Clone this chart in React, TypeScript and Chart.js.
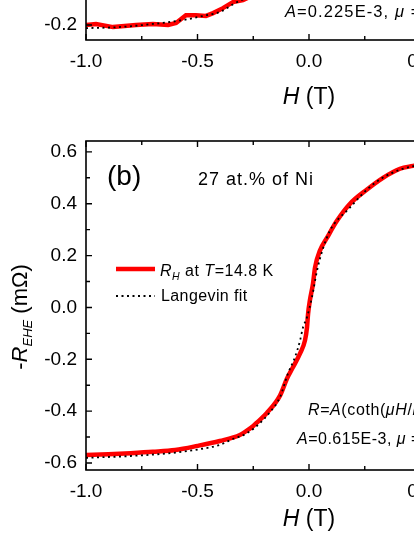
import React, { useEffect, useRef } from 'react';
import { Chart, registerables } from 'chart.js';

Chart.register(...registerables);

const FAMILY = "'Liberation Sans', Arial, sans-serif";

// Axis ticks
const X_TICKS = [-1.0, -0.5, 0.0, 0.5, 1.0];
const X_MINOR = [-0.75, -0.25, 0.25, 0.75];
const Y_TICKS_B = [-0.6, -0.4, -0.2, 0.0, 0.2, 0.4, 0.6];
const Y_MINOR_B = [-0.5, -0.3, -0.1, 0.1, 0.3, 0.5];
const Y_TICKS_A = [-0.2, 0.0, 0.2, 0.4, 0.6, 0.8];
const Y_MINOR_A = [-0.1, 0.1, 0.3, 0.5, 0.7, 0.9];

// Panel (b): measured R_H at T = 14.8 K (27 at.% Ni)
const H_MEAS_B = [-1.0, -0.9, -0.8, -0.7, -0.6, -0.5, -0.4, -0.31, -0.28, -0.25, -0.23, -0.19, -0.13, -0.099, -0.072, -0.04, -0.018, -0.009, -0.004, 0.004, 0.018, 0.027, 0.049, 0.081, 0.126, 0.184, 0.26, 0.332, 0.408, 0.466, 0.55, 0.65, 0.8, 1.0];
const R_MEAS_B = [-0.569, -0.566, -0.562, -0.557, -0.55, -0.534, -0.515, -0.492, -0.476, -0.457, -0.441, -0.408, -0.34, -0.275, -0.231, -0.177, -0.127, -0.077, -0.023, 0.027, 0.092, 0.154, 0.219, 0.269, 0.335, 0.4, 0.455, 0.5, 0.535, 0.546, 0.56, 0.572, 0.585, 0.6];
// Panel (b): Langevin fit
const H_FIT_B = [-1.0, -0.8, -0.6, -0.5, -0.4, -0.354, -0.278, -0.22, -0.175, -0.13, -0.094, -0.063, -0.04, -0.027, -0.009, 0.013, 0.036, 0.06, 0.094, 0.13, 0.17, 0.26, 0.33, 0.41, 0.47, 0.6, 0.8, 1.0];
const R_FIT_B = [-0.58, -0.573, -0.56, -0.548, -0.53, -0.512, -0.485, -0.446, -0.404, -0.346, -0.254, -0.192, -0.127, -0.077, -0.038, 0.038, 0.142, 0.22, 0.296, 0.34, 0.373, 0.455, 0.5, 0.532, 0.545, 0.565, 0.585, 0.6];

// Panel (a) (upper, mostly cropped): measured and fit
const H_MEAS_A = [-1.0, -0.955, -0.879, -0.776, -0.7, -0.632, -0.596, -0.552, -0.507, -0.462, -0.43, -0.386, -0.341, -0.296, -0.25, -0.2];
const R_MEAS_A = [-0.2, -0.196, -0.208, -0.2, -0.196, -0.2, -0.192, -0.162, -0.162, -0.165, -0.154, -0.135, -0.112, -0.104, -0.085, -0.065];
const H_FIT_A = [-1.0, -0.852, -0.7, -0.62, -0.54, -0.46, -0.4, -0.33, -0.25, -0.15];
const R_FIT_A = [-0.212, -0.208, -0.196, -0.188, -0.177, -0.162, -0.15, -0.115, -0.085, -0.05];

type Seg = { t: string; size: number; italic?: boolean; dy?: number };

function drawRich(ctx: CanvasRenderingContext2D, x: number, y: number, segs: Seg[], ls = 0, align: 'left' | 'center' = 'left') {
  ctx.save();
  ctx.textBaseline = 'alphabetic';
  ctx.textAlign = 'left';
  ctx.fillStyle = '#000';
  (ctx as any).letterSpacing = ls + 'px';
  let w = 0;
  for (const s of segs) {
    ctx.font = `${s.italic ? 'italic ' : ''}${s.size}px ${FAMILY}`;
    w += ctx.measureText(s.t).width;
  }
  let cx = align === 'center' ? x - w / 2 : x;
  for (const s of segs) {
    ctx.font = `${s.italic ? 'italic ' : ''}${s.size}px ${FAMILY}`;
    ctx.fillText(s.t, cx, y + (s.dy || 0));
    cx += ctx.measureText(s.t).width;
  }
  ctx.restore();
}

function framePlugin(yMajor: number[], yMinor: number[]) {
  return {
    id: 'frame',
    afterDatasetsDraw(chart: any) {
      const { ctx, chartArea: a, scales } = chart;
      const x = scales.x;
      const y = scales.y;
      ctx.save();
      ctx.strokeStyle = '#000';
      ctx.lineWidth = 1.6;
      ctx.strokeRect(a.left, a.top, a.right - a.left, a.bottom - a.top);
      ctx.lineWidth = 1.4;
      ctx.beginPath();
      const xt = (vals: number[], len: number) => {
        for (const v of vals) {
          const p = x.getPixelForValue(v);
          ctx.moveTo(p, a.bottom);
          ctx.lineTo(p, a.bottom - len);
          ctx.moveTo(p, a.top);
          ctx.lineTo(p, a.top + len);
        }
      };
      const yt = (vals: number[], len: number) => {
        for (const v of vals) {
          const p = y.getPixelForValue(v);
          ctx.moveTo(a.left, p);
          ctx.lineTo(a.left + len, p);
          ctx.moveTo(a.right, p);
          ctx.lineTo(a.right - len, p);
        }
      };
      xt(X_TICKS, 6);
      xt(X_MINOR, 4);
      yt(yMajor, 6);
      yt(yMinor, 4);
      ctx.stroke();
      ctx.restore();
    },
  };
}

function makeConfig(p: {
  hMeas: number[]; rMeas: number[]; hFit: number[]; rFit: number[];
  yMin: number; yMax: number; yMajor: number[]; yMinor: number[];
  padTop: number; xHeight: number; smooth: boolean; extra: any;
}) {
  const meas = p.hMeas.map((h, i) => ({ x: h, y: p.rMeas[i] }));
  const fit = p.hFit.map((h, i) => ({ x: h, y: p.rFit[i] }));
  return {
    type: 'line',
    data: {
      datasets: [
        {
          label: 'Langevin fit',
          data: fit,
          borderColor: '#000',
          borderWidth: 1.8,
          borderDash: [2, 3.5],
          pointRadius: 0,
          cubicInterpolationMode: 'monotone',
          order: 0,
        },
        {
          label: 'R_H at T=14.8 K',
          data: meas,
          borderColor: '#ff0000',
          borderWidth: 4.5,
          pointRadius: 0,
          cubicInterpolationMode: p.smooth ? 'monotone' : 'default',
          tension: 0,
          order: 1,
        },
      ],
    },
    options: {
      animation: false,
      responsive: false,
      layout: { padding: { top: p.padTop, right: 28, left: 0, bottom: 0 } },
      plugins: { legend: { display: false }, tooltip: { enabled: false } },
      scales: {
        x: {
          type: 'linear',
          min: -1,
          max: 1,
          grid: { display: false, drawTicks: false },
          border: { display: false },
          afterBuildTicks: (s: any) => { s.ticks = X_TICKS.map((v) => ({ value: v })); },
          afterFit: (s: any) => { s.height = p.xHeight; },
          ticks: {
            padding: 10,
            color: '#000',
            font: { family: FAMILY, size: 19 },
            maxRotation: 0,
            callback: (v: any) => Number(v).toFixed(1),
          },
        },
        y: {
          type: 'linear',
          min: p.yMin,
          max: p.yMax,
          grid: { display: false, drawTicks: false },
          border: { display: false },
          afterBuildTicks: (s: any) => { s.ticks = p.yMajor.map((v) => ({ value: v })); },
          afterFit: (s: any) => { s.width = 86; },
          ticks: {
            padding: 9,
            color: '#000',
            font: { family: FAMILY, size: 19 },
            callback: (v: any) => Number(v).toFixed(1),
          },
        },
      },
    },
    plugins: [framePlugin(p.yMajor, p.yMinor), p.extra],
  } as any;
}

const TOP_CANVAS_H = 440;
const TOP_OFFSET = -305;

export default function App() {
  const topRef = useRef<HTMLCanvasElement>(null);
  const botRef = useRef<HTMLCanvasElement>(null);

  useEffect(() => {
    const topExtra = {
      id: 'topText',
      afterDraw(chart: any) {
        const ctx = chart.ctx;
        const oy = -TOP_OFFSET;
        drawRich(ctx, 285, 17 + oy, [
          { t: 'A', size: 16.5, italic: true },
          { t: '=0.225E-3, ', size: 16.5 },
          { t: 'μ', size: 16.5, italic: true },
          { t: ' =1', size: 16.5 },
        ], 1.1);
        drawRich(ctx, 309, 104 + oy, [
          { t: 'H', size: 23, italic: true },
          { t: ' (T)', size: 23 },
        ], 0, 'center');
      },
    };
    const botExtra = {
      id: 'botText',
      afterDraw(chart: any) {
        const ctx = chart.ctx as CanvasRenderingContext2D;
        // panel label and composition
        drawRich(ctx, 107, 185, [{ t: '(b)', size: 28 }]);
        drawRich(ctx, 198, 185, [{ t: '27 at.% of Ni', size: 18 }], 1.0);
        // legend
        ctx.save();
        ctx.strokeStyle = '#ff0000';
        ctx.lineWidth = 4.5;
        ctx.beginPath();
        ctx.moveTo(116, 269);
        ctx.lineTo(155, 269);
        ctx.stroke();
        ctx.strokeStyle = '#000';
        ctx.lineWidth = 1.8;
        ctx.setLineDash([2, 3.5]);
        ctx.beginPath();
        ctx.moveTo(116, 296);
        ctx.lineTo(155, 296);
        ctx.stroke();
        ctx.restore();
        drawRich(ctx, 160, 276, [
          { t: 'R', size: 16, italic: true },
          { t: 'H', size: 10.5, italic: true, dy: 4 },
          { t: ' at ', size: 16 },
          { t: 'T', size: 16, italic: true },
          { t: '=14.8 K', size: 16 },
        ], 0.5);
        drawRich(ctx, 161, 301, [{ t: 'Langevin fit', size: 16 }], 0.4);
        // fit formula
        drawRich(ctx, 308, 415, [
          { t: 'R', size: 16, italic: true },
          { t: '=', size: 16 },
          { t: 'A', size: 16, italic: true },
          { t: '(coth(', size: 16 },
          { t: 'μH', size: 16, italic: true },
          { t: '/', size: 16 },
          { t: 'kT', size: 16, italic: true },
          { t: ')-', size: 16 },
          { t: 'kT', size: 16, italic: true },
          { t: '/', size: 16 },
          { t: 'μH', size: 16, italic: true },
          { t: ')', size: 16 },
        ], 0.6);
        drawRich(ctx, 297, 444, [
          { t: 'A', size: 16, italic: true },
          { t: '=0.615E-3, ', size: 16 },
          { t: 'μ', size: 16, italic: true },
          { t: ' =', size: 16 },
        ], 0.5);
        // axis titles
        drawRich(ctx, 309, 526, [
          { t: 'H', size: 23, italic: true },
          { t: ' (T)', size: 23 },
        ], 0, 'center');
        ctx.save();
        ctx.translate(27, 317);
        ctx.rotate(-Math.PI / 2);
        drawRich(ctx, 0, 0, [
          { t: '-', size: 22 },
          { t: 'R', size: 22, italic: true },
          { t: 'EHE', size: 13, italic: true, dy: 5 },
          { t: ' (mΩ)', size: 22 },
        ], 0, 'center');
        ctx.restore();
      },
    };

    const topChart = new Chart(topRef.current as HTMLCanvasElement, makeConfig({
      hMeas: H_MEAS_A, rMeas: R_MEAS_A, hFit: H_FIT_A, rFit: R_FIT_A,
      yMin: -0.2 - 15 / 260, yMax: -0.2 - 15 / 260 + (TOP_CANVAS_H - 95 - 20) / 260,
      yMajor: Y_TICKS_A, yMinor: Y_MINOR_A,
      padTop: 20, xHeight: 95, smooth: false, extra: topExtra,
    }));
    const botChart = new Chart(botRef.current as HTMLCanvasElement, makeConfig({
      hMeas: H_MEAS_B, rMeas: R_MEAS_B, hFit: H_FIT_B, rFit: R_FIT_B,
      yMin: -0.627, yMax: 0.642,
      yMajor: Y_TICKS_B, yMinor: Y_MINOR_B,
      padTop: 141, xHeight: 65, smooth: true, extra: botExtra,
    }));
    return () => {
      topChart.destroy();
      botChart.destroy();
    };
  }, []);

  return (
    <div style={{ position: 'fixed', left: 0, top: 0, width: 414, height: 535, overflow: 'hidden', background: '#fff' }}>
      <div style={{ position: 'absolute', left: 0, top: TOP_OFFSET, width: 560, height: TOP_CANVAS_H }}>
        <canvas ref={topRef} width={560} height={TOP_CANVAS_H} style={{ width: 560, height: TOP_CANVAS_H, display: 'block' }} />
      </div>
      <div style={{ position: 'absolute', left: 0, top: 0, width: 560, height: 535 }}>
        <canvas ref={botRef} width={560} height={535} style={{ width: 560, height: 535, display: 'block' }} />
      </div>
    </div>
  );
}
